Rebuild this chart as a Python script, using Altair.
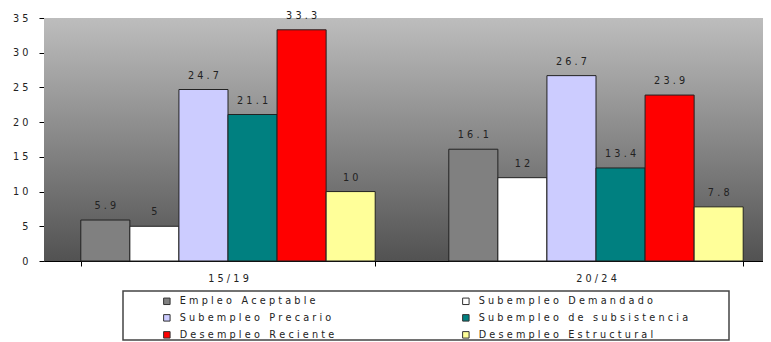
import altair as alt
import pandas as pd

categories = ["15/19", "20/24"]
series = [
    "Empleo Aceptable",
    "Subempleo Demandado",
    "Subempleo Precario",
    "Subempleo de subsistencia",
    "Desempleo Reciente",
    "Desempleo Estructural",
]
values_15_19 = [5.9, 5, 24.7, 21.1, 33.3, 10]
values_20_24 = [16.1, 12, 26.7, 13.4, 23.9, 7.8]
colors = ["#808080", "#FFFFFF", "#CCCCFF", "#008080", "#FF0000", "#FFFF99"]
y_ticks = [0, 5, 10, 15, 20, 25, 30, 35]

rows = []
for cat, vals in zip(categories, [values_15_19, values_20_24]):
    for s, v in zip(series, vals):
        rows.append({"cat": cat, "serie": s, "value": v})
df = pd.DataFrame(rows)

SP = "\u2004"
spaced = "join(split(datum.label, ''), '" + SP + "')"
FONT = "DejaVu Sans"
FS = 9.7
W, H = 719, 243

xscale = alt.Scale(domain=categories, range=[0, 736], paddingInner=0.2, paddingOuter=0.1)

bg = alt.Chart(pd.DataFrame({"bg": [0]})).mark_rect(
    fill=alt.Gradient(
        gradient="linear",
        stops=[alt.GradientStop(color="#bdbdbd", offset=0),
               alt.GradientStop(color="#525252", offset=1)],
        x1=0, x2=0, y1=0, y2=1,
    )
).encode(x=alt.value(0), x2=alt.value(736), y=alt.value(0), y2=alt.value(H))

legend_box = alt.Chart(pd.DataFrame({"bg": [0]})).mark_rect(
    fill="white", fillOpacity=0, stroke="#444444", strokeWidth=1.5
).encode(x=alt.value(79), x2=alt.value(685), y=alt.value(273), y2=alt.value(322))

yenc = alt.Y("value:Q", scale=alt.Scale(domain=[0, 35], nice=False),
             axis=alt.Axis(title=None, values=y_ticks, tickCount=8, grid=False,
                           labelOverlap=False,
                           labelExpr=spaced, labelFont=FONT, labelFontSize=FS,
                           labelColor="#222222", domainColor="black",
                           tickColor="black", tickSize=5, labelPadding=11))

base = alt.Chart(df).encode(
    x=alt.X("cat:N", scale=xscale, sort=categories,
            axis=alt.Axis(title=None, tickBand="extent", labelAngle=0,
                          labelExpr=spaced, labelFont=FONT, labelFontSize=FS,
                          labelColor="#222222", domainColor="black",
                          tickColor="black", tickSize=5, labelPadding=7)),
    xOffset=alt.XOffset("serie:N", sort=series),
    y=yenc,
)

bars = base.mark_bar(stroke="#222222", strokeWidth=1).encode(
    color=alt.Color("serie:N", sort=series,
                    scale=alt.Scale(domain=series, range=colors),
                    legend=alt.Legend(
                        title=None, orient="none", legendX=118, legendY=278,
                        direction="horizontal",
                        columns=2, columnPadding=125, rowPadding=5,
                        symbolType="square", symbolSize=42,
                        symbolStrokeColor="#333333", symbolStrokeWidth=1,
                        symbolOpacity=1,
                        labelExpr=spaced, labelFont=FONT, labelFontSize=FS,
                        labelColor="#222222", labelLimit=400, labelOffset=8,
                        padding=0,
                    )),
)

labels = base.mark_text(
    font=FONT, fontSize=FS, color="#222222", baseline="middle", dy=-14
).transform_calculate(
    lbl="join(split(toString(datum.value), ''), '" + SP + "')"
).encode(
    text=alt.Text("lbl:N"),
)

chart = alt.layer(bg, bars, labels, legend_box).properties(
    width=W, height=H,
    autosize=alt.AutoSizeParams(type="none"),
    padding={"left": 36, "top": 10, "right": 0, "bottom": 81},
).configure_view(stroke=None)

chart.save("out.html", embed_options={"renderer": "svg", "actions": False})
